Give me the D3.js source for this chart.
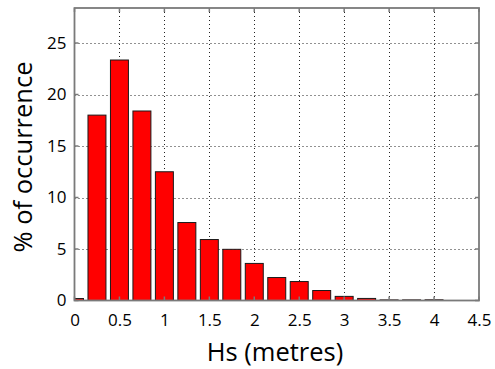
<!DOCTYPE html>
<html>
<head>
<meta charset="utf-8">
<script src="https://cdn.jsdelivr.net/npm/d3@7"></script>
<style>
  body { margin: 0; background: #fff; }
  svg { display: block; }
  text { font-family: "Open Sans", sans-serif; fill: #000; }
</style>
</head>
<body>
<div id="chart"></div>
<script>
// bin centres (metres) and % of occurrence
const binCentres = [0, 0.25, 0.5, 0.75, 1.0, 1.25, 1.5, 1.75, 2.0, 2.25, 2.5, 2.75, 3.0, 3.25, 3.5, 3.75, 4.0];
const percents = [0.19, 18.0, 23.35, 18.4, 12.5, 7.57, 5.92, 4.97, 3.6, 2.23, 1.84, 0.97, 0.4, 0.2, 0.06, 0.06, 0.07];
const xTicks = [0, 0.5, 1, 1.5, 2, 2.5, 3, 3.5, 4, 4.5];
const yTicks = [0, 5, 10, 15, 20, 25];
const binWidth = 0.25;

const width = 495, height = 369;
const margin = { top: 8, right: 16, bottom: 68.5, left: 74.5 };

const svg = d3.select("#chart")
  .append("svg")
  .attr("width", width)
  .attr("height", height);

const x = d3.scaleLinear()
  .domain([0, 4.5])
  .range([margin.left, width - margin.right]);

const y = d3.scaleLinear()
  .domain([0, 28.4])
  .range([height - margin.bottom, margin.top]);

const plotW = x.range()[1] - x.range()[0];
const plotH = y.range()[0] - y.range()[1];

svg.append("clipPath")
  .attr("id", "plot-clip")
  .append("rect")
  .attr("x", x.range()[0])
  .attr("y", y.range()[1])
  .attr("width", plotW)
  .attr("height", plotH);

// dotted grid
const grid = svg.append("g")
  .attr("stroke", "#222")
  .attr("stroke-width", 1)
  .attr("stroke-dasharray", "1,3");

grid.selectAll(".vg")
  .data(xTicks.filter(d => d > 0 && d < 4.5))
  .join("line")
  .attr("x1", d => Math.round(x(d)) + 0.5)
  .attr("x2", d => Math.round(x(d)) + 0.5)
  .attr("y1", y.range()[1])
  .attr("y2", y.range()[0]);

grid.selectAll(".hg")
  .data(yTicks.filter(d => d > 0))
  .join("line")
  .attr("y1", d => Math.round(y(d)) + 0.5)
  .attr("y2", d => Math.round(y(d)) + 0.5)
  .attr("x1", x.range()[0])
  .attr("x2", x.range()[1]);

// bars
svg.append("g")
  .attr("clip-path", "url(#plot-clip)")
  .selectAll("rect")
  .data(binCentres.map((c, i) => ({ c, v: percents[i] })))
  .join("rect")
  .attr("x", d => x(d.c - binWidth * 0.4))
  .attr("width", x(binWidth * 0.8) - x(0))
  .attr("y", d => y(d.v))
  .attr("height", d => y(0) - y(d.v))
  .attr("fill", "#ff0000")
  .attr("stroke", "#1a1a1a")
  .attr("stroke-width", 1);

// axes (box with inward ticks)
const tickLen = 4;
const axisColor = "#7a7a7a";

const bottomAxis = d3.axisBottom(x).tickValues(xTicks).tickSize(0).tickPadding(13)
  .tickFormat(d3.format("~g"));
const gx = svg.append("g")
  .attr("transform", `translate(0,${y.range()[0]})`)
  .call(bottomAxis);
gx.select(".domain").remove();
gx.selectAll("text").style("font-size", "17px");

const leftAxis = d3.axisLeft(y).tickValues(yTicks).tickSize(0).tickPadding(8);
const gy = svg.append("g")
  .attr("transform", `translate(${x.range()[0]},0)`)
  .call(leftAxis);
gy.select(".domain").remove();
gy.selectAll("text").style("font-size", "17px");

const ticks = svg.append("g").attr("stroke", axisColor).attr("stroke-width", 1.5);
xTicks.forEach(t => {
  ticks.append("line").attr("x1", x(t)).attr("x2", x(t))
    .attr("y1", y.range()[0]).attr("y2", y.range()[0] - tickLen);
  ticks.append("line").attr("x1", x(t)).attr("x2", x(t))
    .attr("y1", y.range()[1]).attr("y2", y.range()[1] + tickLen);
});
yTicks.forEach(t => {
  ticks.append("line").attr("y1", y(t)).attr("y2", y(t))
    .attr("x1", x.range()[0]).attr("x2", x.range()[0] + tickLen);
  ticks.append("line").attr("y1", y(t)).attr("y2", y(t))
    .attr("x1", x.range()[1]).attr("x2", x.range()[1] - tickLen);
});

svg.append("rect")
  .attr("x", x.range()[0])
  .attr("y", y.range()[1])
  .attr("width", plotW)
  .attr("height", plotH)
  .attr("fill", "none")
  .attr("stroke", axisColor)
  .attr("stroke-width", 1.8);

// titles
svg.append("text")
  .text("Hs (metres)")
  .attr("x", 275)
  .attr("y", 361)
  .attr("text-anchor", "middle")
  .style("font-size", "25.5px");

svg.append("text")
  .text("% of occurrence")
  .attr("transform", `translate(32,157) rotate(-90)`)
  .attr("text-anchor", "middle")
  .style("font-size", "25.5px");
</script>
</body>
</html>
